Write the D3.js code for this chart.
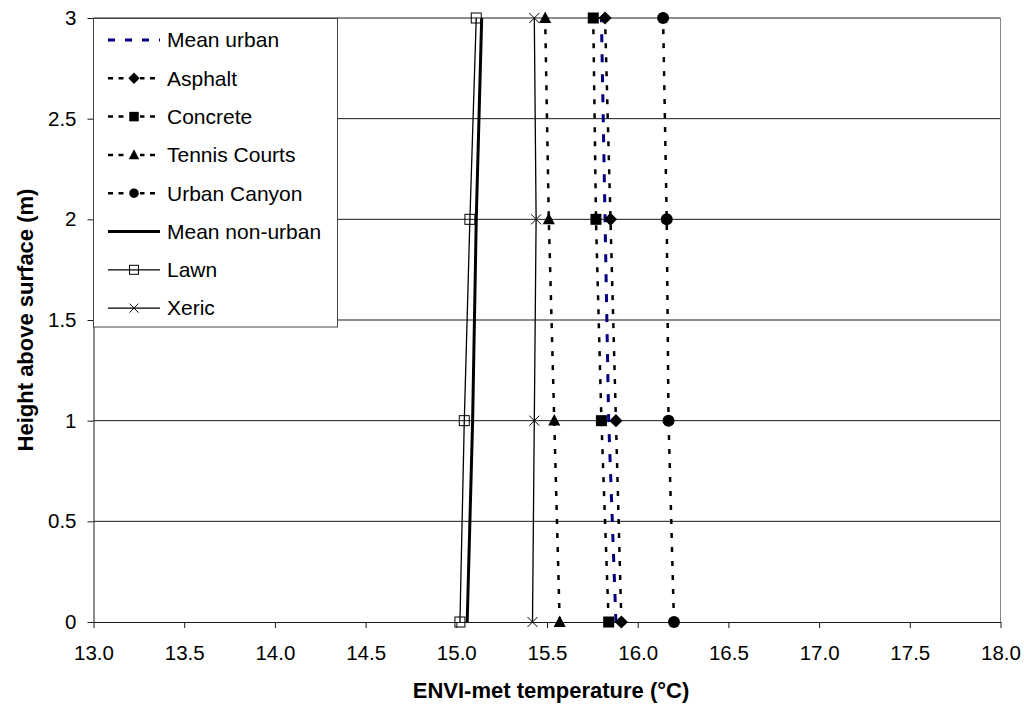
<!DOCTYPE html>
<html>
<head>
<meta charset="utf-8">
<script src="https://cdn.jsdelivr.net/npm/d3@7"></script>
<style>
  html, body { margin: 0; padding: 0; background: #fff; }
  svg { display: block; font-family: "Liberation Sans", Arial, sans-serif; }
</style>
</head>
<body>
<svg id="chart" width="1024" height="706"></svg>
<script>
// Heights above surface (m) at which temperatures were sampled
const heights = [0, 1, 2, 3];

// ENVI-met air temperature (°C) per surface type, one value per height
const meanUrban    = [15.88, 15.84, 15.82, 15.80];
const asphalt      = [15.91, 15.88, 15.85, 15.82];
const concrete     = [15.84, 15.80, 15.77, 15.755];
const tennisCourts = [15.57, 15.54, 15.51, 15.49];
const urbanCanyon  = [16.20, 16.17, 16.16, 16.14];
const meanNonUrban = [15.06, 15.09, 15.11, 15.14];
const lawn         = [15.02, 15.044, 15.075, 15.11];
const xeric        = [15.42, 15.43, 15.44, 15.43];

// Axis ticks
const xTicks = [13.0, 13.5, 14.0, 14.5, 15.0, 15.5, 16.0, 16.5, 17.0, 17.5, 18.0];
const yTicks = [0, 0.5, 1, 1.5, 2, 2.5, 3];

const series = [
  { name: "Mean urban",     values: meanUrban,    kind: "meanUrban" },
  { name: "Asphalt",        values: asphalt,      kind: "dotted", symbol: "diamond" },
  { name: "Concrete",       values: concrete,     kind: "dotted", symbol: "square" },
  { name: "Tennis Courts",  values: tennisCourts, kind: "dotted", symbol: "triangle" },
  { name: "Urban Canyon",   values: urbanCanyon,  kind: "dotted", symbol: "circle" },
  { name: "Mean non-urban", values: meanNonUrban, kind: "thick" },
  { name: "Lawn",           values: lawn,         kind: "thin", symbol: "openSquare" },
  { name: "Xeric",          values: xeric,        kind: "thin", symbol: "cross" }
];

const svg = d3.select("#chart");
const plot = { left: 93.5, right: 1000.5, top: 18, bottom: 622 };

const x = d3.scaleLinear().domain([13, 18]).range([plot.left, plot.right]);
const y = d3.scaleLinear().domain([0, 3]).range([plot.bottom, plot.top]);

// Horizontal gridlines
svg.append("g")
  .selectAll("line")
  .data(yTicks.filter(d => d > 0))
  .join("line")
  .attr("x1", plot.left).attr("x2", plot.right)
  .attr("y1", d => y(d)).attr("y2", d => y(d))
  .attr("stroke", "#1a1a1a").attr("stroke-width", 1);

// Right border of plot area
svg.append("line")
  .attr("x1", plot.right).attr("x2", plot.right)
  .attr("y1", plot.top).attr("y2", plot.bottom)
  .attr("stroke", "#888").attr("stroke-width", 1);

// Axes
const xAxis = svg.append("g")
  .attr("transform", `translate(0,${plot.bottom})`)
  .call(d3.axisBottom(x).tickValues(xTicks).tickFormat(d3.format(".1f")).tickSize(6).tickSizeOuter(0).tickPadding(17));
const yAxis = svg.append("g")
  .attr("transform", `translate(${plot.left},0)`)
  .call(d3.axisLeft(y).tickValues(yTicks).tickFormat(d3.format("")).tickSize(6).tickSizeOuter(0).tickPadding(11));

[xAxis, yAxis].forEach(g => {
  g.select(".domain").attr("stroke", "#1a1a1a").attr("stroke-width", 1);
  g.selectAll(".tick line").attr("stroke", "#1a1a1a");
  g.selectAll(".tick text")
    .attr("fill", "#000")
    .style("font-size", "20.5px")
    .style("font-family", "'Liberation Sans', Arial, sans-serif");
});

// Axis titles
svg.append("text")
  .attr("x", 551)
  .attr("y", 698)
  .attr("text-anchor", "middle")
  .style("font-size", "22px").style("font-weight", "bold")
  .text("ENVI-met temperature (°C)");

svg.append("text")
  .attr("transform", `translate(33,${320}) rotate(-90)`)
  .attr("text-anchor", "middle")
  .style("font-size", "22px").style("font-weight", "bold")
  .text("Height above surface (m)");

// Marker drawing
function drawMarker(g, symbol, size) {
  const s = size;
  switch (symbol) {
    case "diamond":
      g.append("path").attr("d", `M0,${-s*0.6}L${s*0.6},0L0,${s*0.6}L${-s*0.6},0Z`).attr("fill", "#000");
      break;
    case "square":
      g.append("rect").attr("x", -s/2).attr("y", -s/2).attr("width", s).attr("height", s).attr("fill", "#000");
      break;
    case "triangle":
      g.append("path").attr("d", `M0,${-s*0.6}L${s*0.55},${s*0.45}L${-s*0.55},${s*0.45}Z`).attr("fill", "#000");
      break;
    case "circle":
      g.append("circle").attr("r", s/2).attr("fill", "#000");
      break;
    case "openSquare":
      g.append("rect").attr("x", -s/2).attr("y", -s/2).attr("width", s).attr("height", s)
        .attr("fill", "none").attr("stroke", "#000").attr("stroke-width", 1);
      break;
    case "cross":
      g.append("path").attr("d", `M${-s/2},${-s/2}L${s/2},${s/2}M${-s/2},${s/2}L${s/2},${-s/2}`)
        .attr("stroke", "#000").attr("stroke-width", 1).attr("fill", "none");
      break;
  }
}

function lineStyle(sel, kind, legend) {
  if (kind === "meanUrban") {
    sel.attr("stroke", "#000080").attr("stroke-width", 3).attr("stroke-dasharray", legend ? "7,10" : "8,12");
  } else if (kind === "dotted") {
    sel.attr("stroke", "#000").attr("stroke-width", 2.5).attr("stroke-dasharray", legend ? "5,5.5" : "5,9");
  } else if (kind === "thick") {
    sel.attr("stroke", "#000").attr("stroke-width", 3);
  } else {
    sel.attr("stroke", "#000").attr("stroke-width", 1.3);
  }
  return sel;
}

const line = d3.line().x(d => x(d[0])).y(d => y(d[1]));

// Data lines and markers
const seriesG = svg.append("g");
series.forEach(s => {
  const pts = s.values.map((v, i) => [v, heights[i]]);
  lineStyle(seriesG.append("path").attr("d", line(pts)).attr("fill", "none"), s.kind, false);
});
series.forEach(s => {
  if (!s.symbol) return;
  s.values.forEach((v, i) => {
    const g = seriesG.append("g").attr("transform", `translate(${x(v)},${y(heights[i])})`);
    const size = s.symbol === "circle" ? 12 : s.symbol === "openSquare" || s.symbol === "cross" ? 10 : 11;
    drawMarker(g, s.symbol, size);
  });
});

// Legend
const legend = svg.append("g");
legend.append("rect")
  .attr("x", 93.5).attr("y", 18.5).attr("width", 244).attr("height", 308.5)
  .attr("fill", "#fff").attr("stroke", "#444").attr("stroke-width", 1);

series.forEach((s, i) => {
  const cy = 40 + i * 38.3;
  const item = legend.append("g");
  lineStyle(item.append("line").attr("x1", 108).attr("x2", 160).attr("y1", cy).attr("y2", cy), s.kind, true);
  if (s.symbol) {
    const g = item.append("g").attr("transform", `translate(134,${cy})`);
    const sz = s.symbol === "openSquare" ? 9 : s.symbol === "cross" ? 9 : 9.5;
    if (s.kind === "dotted") {
      // clear the dashes behind the marker
      g.append("rect").attr("x", -6).attr("y", -2).attr("width", 12).attr("height", 4).attr("fill", "#fff");
    }
    drawMarker(g, s.symbol, sz);
  }
  item.append("text")
    .attr("x", 167).attr("y", cy)
    .attr("dy", "0.35em")
    .style("font-size", "21px")
    .text(s.name);
});
</script>
</body>
</html>
